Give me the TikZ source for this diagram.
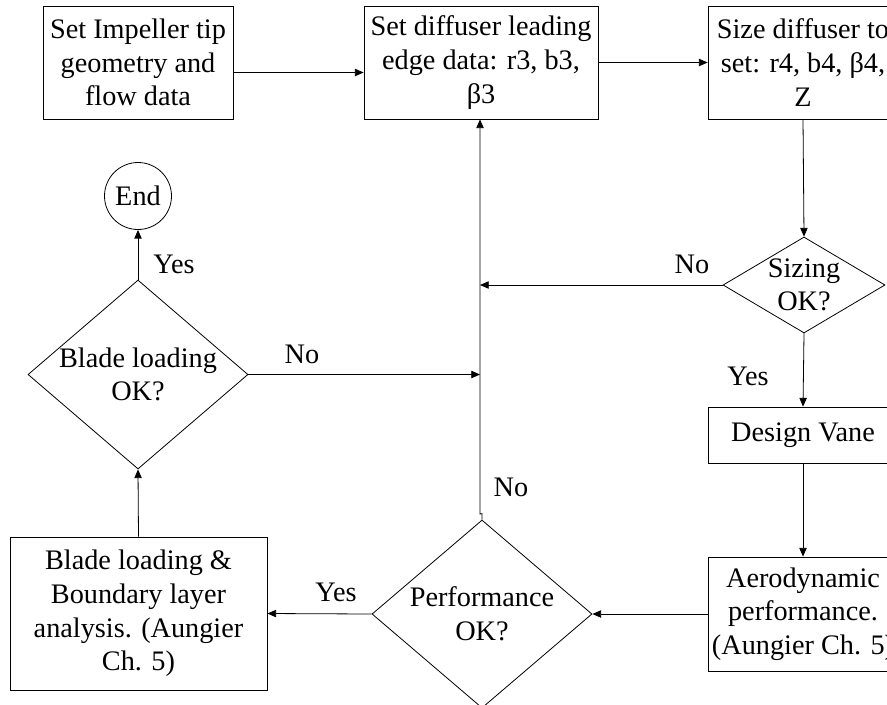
\documentclass[tikz,border=0pt]{standalone}
\usepackage{fontspec}
\setmainfont{Liberation Serif}
\usetikzlibrary{shapes.geometric,arrows.meta}
\begin{document}
\begin{tikzpicture}[x=0.75pt,y=-0.75pt,
  every node/.style={font=\fontsize{21.2}{25.2}\selectfont},
  box/.style={draw,line width=0.6pt,rectangle,inner sep=0pt,align=center},
  dia/.style={draw,line width=0.6pt,diamond,inner sep=0pt},
  txt/.style={align=center,inner sep=0pt},
  lab/.style={inner sep=0pt},
  arr/.style={line width=0.6pt,-{Triangle[length=6.5pt,width=5.5pt]}},
  ln/.style={line width=0.6pt}]
\useasboundingbox (0,0) rectangle (887,704);
\clip (0,0) rectangle (887,704);
% boxes
\node[box,minimum width=142.5pt,minimum height=84.75pt] (b1) at (138,62.5) {Set Impeller tip\\geometry and\\flow data};
\node[box,minimum width=175.5pt,minimum height=84.75pt] (b2) at (481,62.5) {Set diffuser leading\\edge data: r3, b3,\\β3};
\node[box,minimum width=142.5pt,minimum height=84.75pt] (b3) at (803,62.5) {Size diffuser to\\set: r4, b4, β4,\\Z};
\node[box,minimum width=142.5pt,minimum height=42pt] (dv) at (803,435) {Design Vane};
\node[box,minimum width=142.5pt,minimum height=85.5pt] (aero) at (803,614) {Aerodynamic\\performance.\\(Aungier Ch. 5)};
\node[box,minimum width=192.75pt,minimum height=114.75pt] (bbox) at (138.5,613.5) {Blade loading \&\\Boundary layer\\analysis. (Aungier\\Ch. 5)};
\node[draw,line width=0.6pt,circle,inner sep=0pt,minimum size=50.25pt] (end) at (138,196) {End};
% diamonds
\node[dia,minimum width=121.5pt,minimum height=72pt] (siz) at (804,285) {};
\node[txt] (sizt) at (siz) {Sizing\\OK?};
\node[dia,minimum width=165pt,minimum height=141.75pt] (bl) at (138,374.5) {};
\node[txt] (blt) at (bl) {Blade loading\\OK?};
\node[dia,minimum width=165pt,minimum height=141pt] (perf) at (482,614) {};
\node[txt] (perft) at (perf) {Performance\\OK?};
\coordinate (lp) at (480,512);
% connectors
\draw[arr] ([yshift=-7.5pt]b1.east) -- ([yshift=-7.5pt]b2.west);
\draw[arr] (b2.east) -- (b3.west);
\draw[arr] (b3.south) -- (siz.north);
\draw[arr] (siz.west) -- (siz.west -| lp);
\draw[arr] (siz.south) -- (dv.north);
\draw[arr] (dv.south) -- (aero.north);
\draw[arr] (aero.west) -- (perf.east);
\draw[arr] (perf.west) -- (bbox.east);
\draw[arr] (bbox.north) -- (bl.south);
\draw[arr] (bl.north) -- (end.south);
\draw[arr] (bl.east) -- (bl.east -| lp);
\draw[arr] (perf.north) -- ++(0,-6) -- ([yshift=-1.5pt]lp) -- (lp |- b2.south);
% labels
\node[lab] (l1) at (692,264) {No};
\node[lab] (l2) at (748,376) {Yes};
\node[lab] (l3) at (302,354) {No};
\node[lab] (l4) at (174,264) {Yes};
\node[lab] (l5) at (511,487) {No};
\node[lab] (l6) at (336,592) {Yes};
\end{tikzpicture}
\end{document}
